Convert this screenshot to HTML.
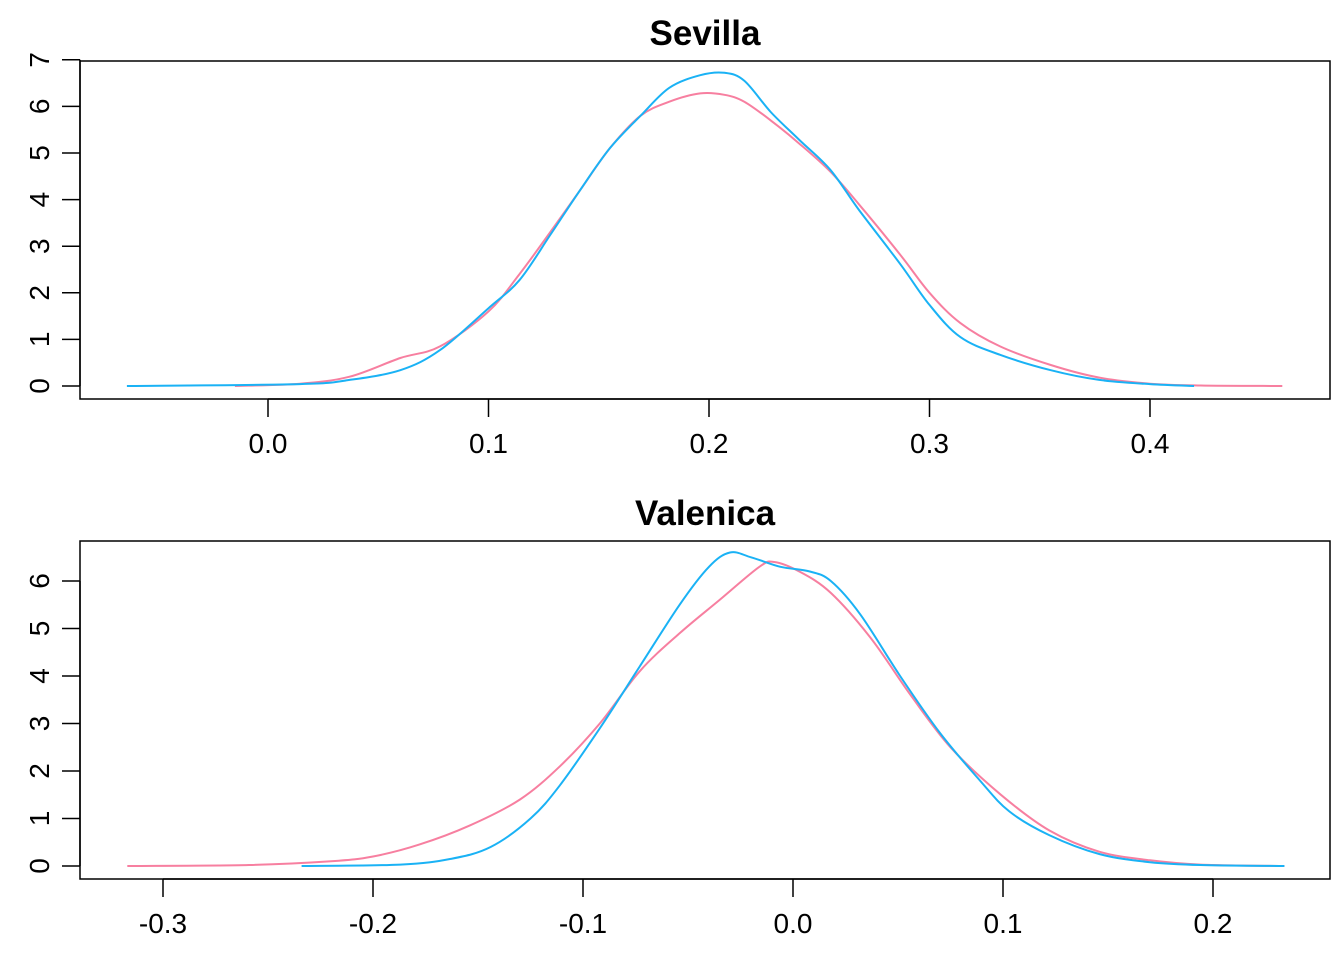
<!DOCTYPE html>
<html><head><meta charset="utf-8"><style>
body{margin:0;background:#fff}
svg{display:block;font-family:"Liberation Sans",Arial,sans-serif}
</style></head><body>
<svg id="chart" width="1344" height="960" xmlns="http://www.w3.org/2000/svg"></svg>
<script>
// Sevilla panel data
const sevXTicks = [0.0, 0.1, 0.2, 0.3, 0.4];
const sevYTicks = [0, 1, 2, 3, 4, 5, 6, 7];
const sevBlueX = [-0.064,0.0145,0.037,0.06,0.078,0.1,0.114,0.128,0.1415,0.155,0.169,0.182,0.196,0.207,0.216,0.228,0.241,0.255,0.268,0.287,0.3,0.314,0.332,0.355,0.377,0.4,0.42];
const sevBlueY = [0,0.04,0.13,0.34,0.77,1.67,2.27,3.24,4.2,5.1,5.8,6.4,6.67,6.72,6.55,5.88,5.28,4.64,3.78,2.6,1.74,1.05,0.67,0.34,0.13,0.04,0];
const sevPinkX = [-0.015,0.0145,0.037,0.06,0.078,0.1,0.114,0.128,0.1415,0.155,0.169,0.182,0.196,0.207,0.216,0.228,0.241,0.255,0.268,0.287,0.3,0.314,0.332,0.355,0.377,0.4,0.423,0.46];
const sevPinkY = [0,0.05,0.2,0.6,0.85,1.6,2.4,3.3,4.2,5.1,5.8,6.1,6.28,6.25,6.1,5.7,5.2,4.6,3.9,2.8,2.0,1.35,0.85,0.45,0.18,0.05,0.01,0];
// Valenica panel data
const valXTicks = [-0.3, -0.2, -0.1, 0.0, 0.1, 0.2];
const valYTicks = [0, 1, 2, 3, 4, 5, 6];
const valPinkX = [-0.317,-0.259,-0.22,-0.2,-0.178,-0.154,-0.13,-0.111,-0.092,-0.073,-0.054,-0.035,-0.016,-0.009,0.003,0.018,0.037,0.056,0.075,0.099,0.122,0.146,0.17,0.194,0.234];
const valPinkY = [0,0.02,0.1,0.2,0.45,0.85,1.4,2.1,3.0,4.1,4.9,5.6,6.3,6.4,6.2,5.75,4.8,3.6,2.5,1.5,0.75,0.3,0.12,0.03,0];
const valBlueX = [-0.234,-0.187,-0.163,-0.144,-0.125,-0.111,-0.092,-0.073,-0.054,-0.04,-0.03,-0.02,-0.006,0.008,0.018,0.032,0.051,0.07,0.089,0.103,0.122,0.146,0.17,0.194,0.234];
const valBlueY = [0,0.03,0.15,0.4,1.0,1.7,2.9,4.2,5.5,6.3,6.6,6.5,6.3,6.2,6.0,5.3,4.0,2.8,1.8,1.15,0.65,0.25,0.08,0.02,0];

const NS="http://www.w3.org/2000/svg";
const svg=document.getElementById('chart');
function mk(tag,attrs,parent){const e=document.createElementNS(NS,tag);for(const k in attrs)e.setAttribute(k,attrs[k]);(parent||svg).appendChild(e);return e;}
function smooth(pts){
  let d='M'+pts[0][0].toFixed(1)+','+pts[0][1].toFixed(1);
  for(let i=0;i<pts.length-1;i++){
    const p0=pts[Math.max(0,i-1)],p1=pts[i],p2=pts[i+1],p3=pts[Math.min(pts.length-1,i+2)];
    const c1=[p1[0]+(p2[0]-p0[0])/6,p1[1]+(p2[1]-p0[1])/6];
    const c2=[p2[0]-(p3[0]-p1[0])/6,p2[1]-(p3[1]-p1[1])/6];
    d+=` C${c1[0].toFixed(1)},${c1[1].toFixed(1)} ${c2[0].toFixed(1)},${c2[1].toFixed(1)} ${p2[0].toFixed(1)},${p2[1].toFixed(1)}`;
  }
  return d;
}

function panel(p){
  const g=mk('g',{});
  
  
  const sx=v=>p.x0px+(v-p.x0)*p.xs;
  const sy=v=>p.y0px-v*p.ys;
  const box=mk('rect',{x:80,y:p.top,width:1250,height:338,fill:'none',stroke:'#000','stroke-width':1.5},g);
  
  
  const t=mk('text',{x:705,y:p.top-16,'text-anchor':'middle','font-size':35,'font-weight':'bold'},g);
  t.textContent=p.title;
  
  
  const xa=mk('g',{},g);
  
  
  const xt=p.xTicks;
  mk('line',{x1:sx(xt[0]),x2:sx(xt[xt.length-1]),y1:p.top+338,y2:p.top+338,stroke:'#000','stroke-width':1.5},xa);
  xt.forEach(v=>{
    mk('line',{x1:sx(v),x2:sx(v),y1:p.top+338,y2:p.top+356,stroke:'#000','stroke-width':1.5},xa);
    const l=mk('text',{x:sx(v),y:p.top+392,'text-anchor':'middle','font-size':28},xa);
    l.textContent=v.toFixed(1);
    
    
  });
  const ya=mk('g',{},g);
  
  
  const yt=p.yTicks;
  mk('line',{x1:80,x2:80,y1:sy(yt[0]),y2:sy(yt[yt.length-1]),stroke:'#000','stroke-width':1.5},ya);
  yt.forEach(v=>{
    mk('line',{x1:62,x2:80,y1:sy(v),y2:sy(v),stroke:'#000','stroke-width':1.5},ya);
    const l=mk('text',{x:0,y:0,'text-anchor':'middle','font-size':28,transform:`translate(49,${sy(v)}) rotate(-90)`},ya);
    l.textContent=v;
    
    
  });
  p.series.forEach(s=>{
    const pts=s.x.map((v,i)=>[sx(v),sy(s.y[i])]);
    const path=mk('path',{d:smooth(pts),fill:'none',stroke:s.color,'stroke-width':2,'stroke-linejoin':'round'},g);
    
    
  });
}
panel({name:'sevilla',title:'Sevilla',top:61,x0:0,x0px:268,xs:2205,y0px:386,ys:46.6,
  xTicks:sevXTicks,yTicks:sevYTicks,
  series:[{name:'pink-density-line',x:sevPinkX,y:sevPinkY,color:'#f77fa0'},{name:'blue-density-line',x:sevBlueX,y:sevBlueY,color:'#1ab2f5'}]});
panel({name:'valenica',title:'Valenica',top:541,x0:0,x0px:793,xs:2100,y0px:866,ys:47.5,
  xTicks:valXTicks,yTicks:valYTicks,
  series:[{name:'pink-density-line',x:valPinkX,y:valPinkY,color:'#f77fa0'},{name:'blue-density-line',x:valBlueX,y:valBlueY,color:'#1ab2f5'}]});
</script>
</body></html>
